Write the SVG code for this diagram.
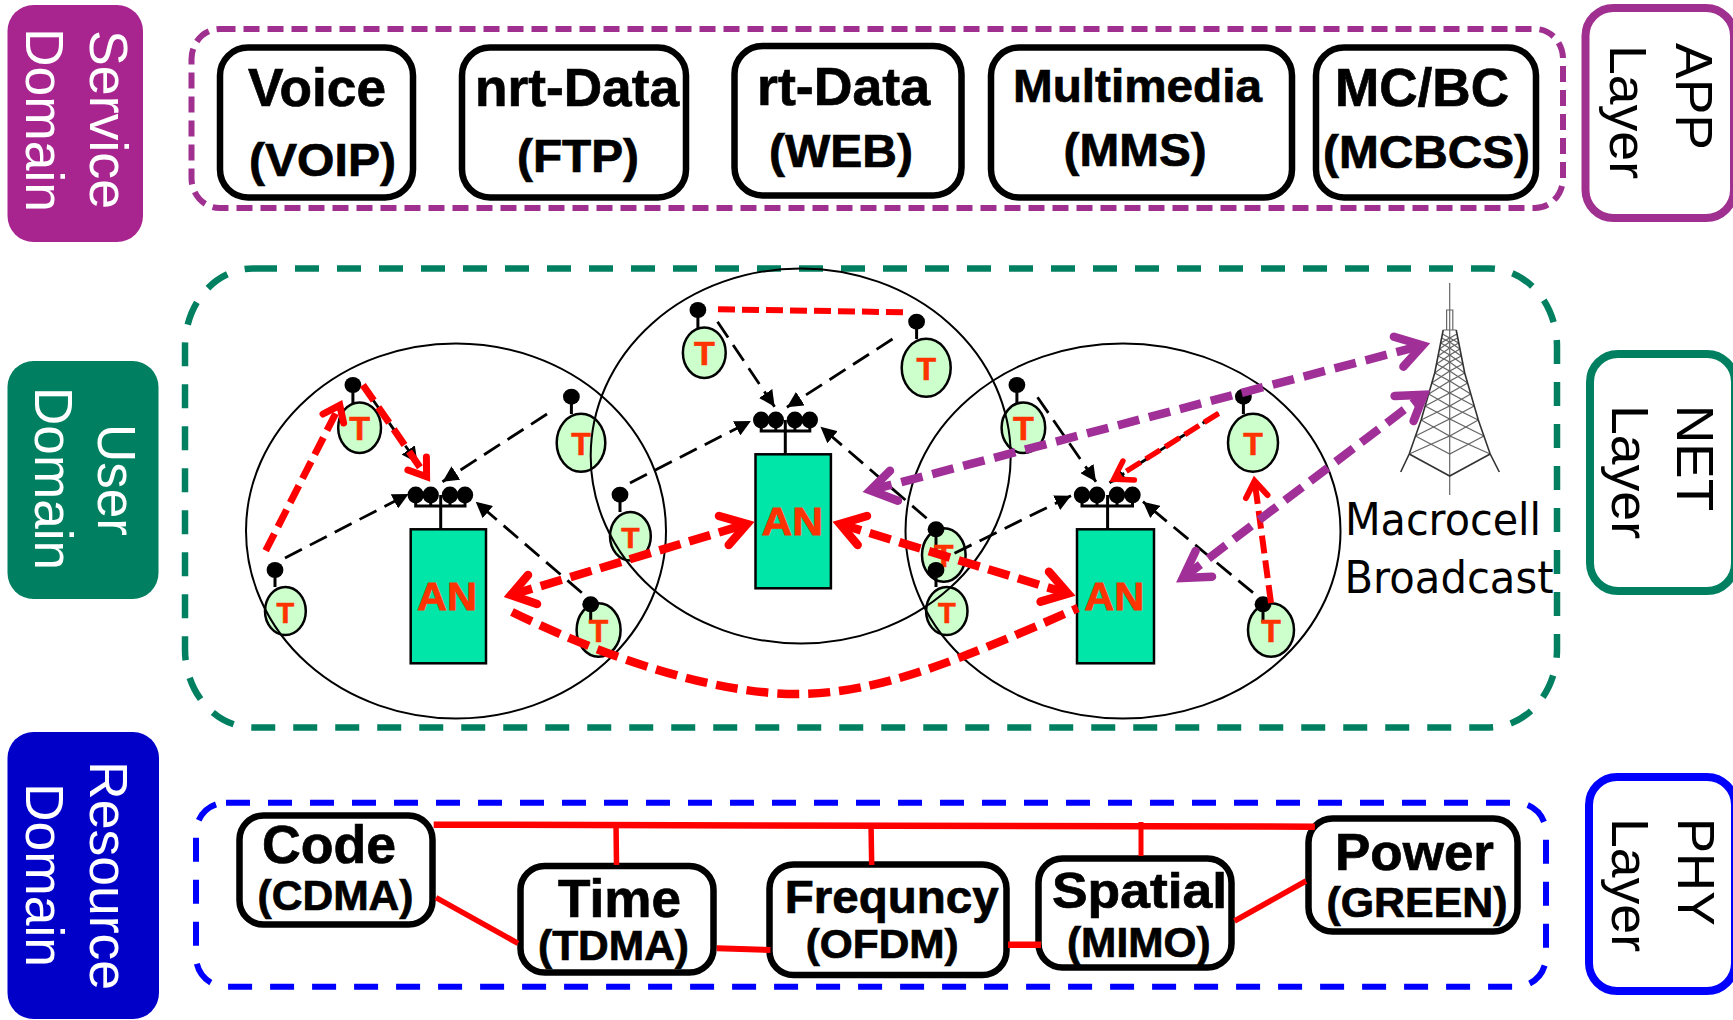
<svg xmlns="http://www.w3.org/2000/svg" width="1733" height="1020" viewBox="0 0 1733 1020">
<style>
text{font-family:"Liberation Sans",Arial,sans-serif}
.dom{fill:#fff;font-size:54px}
.lay{fill:#000;font-size:52px}
.b{font-weight:700;fill:#000;stroke:#000;stroke-width:.7}
.box{fill:#fff;stroke:#000;stroke-width:6.5}
.t{font-weight:700;fill:#FF3300;stroke:#FF3300;stroke-width:.6;text-anchor:middle;font-size:32px}
.an{font-weight:700;fill:#FF3300;stroke:#FF3300;stroke-width:.8;font-size:38px}
.el{fill:#CCFFCC;stroke:#000;stroke-width:2.5}
.st{stroke:#000;stroke-width:3;fill:none}
.anr{fill:#00E6A8;stroke:#000;stroke-width:2.5}
.cell{fill:none;stroke:#000;stroke-width:2}
.blk{stroke:#000;stroke-width:2.8;stroke-dasharray:19 9;fill:none;marker-end:url(#tri)}
.rd{stroke:#FF0000;fill:none}
.arm{stroke-linecap:round;stroke-linejoin:miter;stroke-miterlimit:8;fill:none}
.pp{stroke:#A03098;fill:none}
.lat{stroke:#666;stroke-width:1.2;fill:none}
.leg{stroke:#333;stroke-width:1.6;fill:none}
.res{stroke:#FF0000;fill:none}
.mc{fill:#000;font-family:"DejaVu Sans",sans-serif;font-size:45px}
</style>
<defs>
<marker id="tri" markerUnits="userSpaceOnUse" viewBox="0 0 16 16" refX="16" refY="8" markerWidth="16" markerHeight="16" orient="auto"><path d="M0,0L16,8L0,16z" fill="#000"/></marker>
</defs>
<rect width="1733" height="1020" fill="#fff"/>

<g id="frames" fill="none">
<rect x="191.500" y="29" width="1371.500" height="179" rx="28" ry="30" stroke="#A03090" stroke-width="6" stroke-dasharray="16 8"/>
<rect x="185" y="268.500" width="1372" height="459" rx="68" ry="78" stroke="#008060" stroke-width="6.500" stroke-dasharray="24 18"/>
<rect x="196" y="802.700" width="1350" height="184" rx="30" ry="30" stroke="#0000FF" stroke-width="6" stroke-dasharray="24 18"/>
</g>

<g id="service-domain"><rect x="7.500" y="5" width="135.500" height="237" rx="26" fill="#A82590"/>
<text class="dom" transform="translate(90,30) rotate(90)" textLength="179" lengthAdjust="spacingAndGlyphs">Service</text>
<text class="dom" transform="translate(26,28) rotate(90)" textLength="184" lengthAdjust="spacingAndGlyphs">Domain</text></g>
<g id="user-domain"><rect x="7.500" y="361" width="151" height="238" rx="26" fill="#008060"/>
<text class="dom" transform="translate(98,424) rotate(90)" textLength="112" lengthAdjust="spacingAndGlyphs">User</text>
<text class="dom" transform="translate(35,387) rotate(90)" textLength="183" lengthAdjust="spacingAndGlyphs">Domain</text></g>
<g id="resource-domain"><rect x="7.500" y="732" width="151.500" height="287" rx="26" fill="#0000C8"/>
<text class="dom" transform="translate(90,761) rotate(90)" textLength="229" lengthAdjust="spacingAndGlyphs">Resource</text>
<text class="dom" transform="translate(26,783) rotate(90)" textLength="184" lengthAdjust="spacingAndGlyphs">Domain</text></g>

<g id="app-layer"><rect x="1585.500" y="8" width="148.500" height="210" rx="28" fill="#fff" stroke="#A03090" stroke-width="8"/>
<text class="lay" transform="translate(1676,43) rotate(90)" textLength="107" lengthAdjust="spacingAndGlyphs">APP</text>
<text class="lay" transform="translate(1610,45) rotate(90)" textLength="134" lengthAdjust="spacingAndGlyphs">Layer</text></g>
<g id="net-layer"><rect x="1590" y="354" width="145" height="237" rx="28" fill="#fff" stroke="#008060" stroke-width="8"/>
<text class="lay" transform="translate(1677,405) rotate(90)" textLength="106" lengthAdjust="spacingAndGlyphs">NET</text>
<text class="lay" transform="translate(1612,405) rotate(90)" textLength="134" lengthAdjust="spacingAndGlyphs">Layer</text></g>
<g id="phy-layer"><rect x="1589" y="777" width="146" height="214" rx="28" fill="#fff" stroke="#0000FF" stroke-width="8"/>
<text class="lay" transform="translate(1678,818) rotate(90)" textLength="108" lengthAdjust="spacingAndGlyphs">PHY</text>
<text class="lay" transform="translate(1612,818) rotate(90)" textLength="134" lengthAdjust="spacingAndGlyphs">Layer</text></g>

<g id="voice"><rect class="box" x="220" y="47.500" width="193" height="150" rx="28"/>
<text class="b" x="248" y="106" font-size="53" textLength="138" lengthAdjust="spacingAndGlyphs">Voice</text>
<text class="b" x="249" y="175.700" font-size="47" textLength="147" lengthAdjust="spacingAndGlyphs">(VOIP)</text></g>
<g id="nrt-data"><rect class="box" x="462" y="47.500" width="224" height="150" rx="28"/>
<text class="b" x="475" y="106" font-size="53" textLength="204" lengthAdjust="spacingAndGlyphs">nrt-Data</text>
<text class="b" x="517" y="171.700" font-size="46" textLength="122" lengthAdjust="spacingAndGlyphs">(FTP)</text></g>
<g id="rt-data"><rect class="box" x="734.500" y="46" width="227" height="149.500" rx="28"/>
<text class="b" x="757" y="105" font-size="53" textLength="173" lengthAdjust="spacingAndGlyphs">rt-Data</text>
<text class="b" x="769" y="166.700" font-size="47" textLength="144" lengthAdjust="spacingAndGlyphs">(WEB)</text></g>
<g id="multimedia"><rect class="box" x="991" y="47.500" width="301" height="150" rx="28"/>
<text class="b" x="1013" y="101.700" font-size="46" textLength="249" lengthAdjust="spacingAndGlyphs">Multimedia</text>
<text class="b" x="1063.600" y="165.700" font-size="46" textLength="143" lengthAdjust="spacingAndGlyphs">(MMS)</text></g>
<g id="mc-bc"><rect class="box" x="1316" y="47.500" width="220" height="150" rx="28"/>
<text class="b" x="1335" y="106" font-size="53" textLength="174" lengthAdjust="spacingAndGlyphs">MC/BC</text>
<text class="b" x="1323" y="168" font-size="46" textLength="207" lengthAdjust="spacingAndGlyphs">(MCBCS)</text></g>

<g id="code"><rect class="box" x="239.500" y="815.500" width="193" height="109" rx="24"/>
<text class="b" x="262" y="862.700" font-size="53" textLength="134" lengthAdjust="spacingAndGlyphs">Code</text>
<text class="b" x="257.500" y="910" font-size="42" textLength="156" lengthAdjust="spacingAndGlyphs">(CDMA)</text></g>
<g id="time"><rect class="box" x="520.500" y="866" width="193" height="106.500" rx="24"/>
<text class="b" x="558" y="916.700" font-size="53" textLength="123" lengthAdjust="spacingAndGlyphs">Time</text>
<text class="b" x="538" y="960" font-size="42" textLength="151" lengthAdjust="spacingAndGlyphs">(TDMA)</text></g>
<g id="frequency"><rect class="box" x="769.500" y="864.500" width="237" height="110.500" rx="24"/>
<text class="b" x="784.700" y="912.700" font-size="46" textLength="214" lengthAdjust="spacingAndGlyphs">Frequncy</text>
<text class="b" x="805.700" y="958.300" font-size="40" textLength="153" lengthAdjust="spacingAndGlyphs">(OFDM)</text></g>
<g id="spatial"><rect class="box" x="1038.500" y="858.500" width="193" height="109" rx="24"/>
<text class="b" x="1052" y="908.300" font-size="50" textLength="175" lengthAdjust="spacingAndGlyphs">Spatial</text>
<text class="b" x="1067" y="956.700" font-size="42" textLength="143.500" lengthAdjust="spacingAndGlyphs">(MIMO)</text></g>
<g id="power"><rect class="box" x="1308.500" y="818.500" width="209" height="113" rx="24"/>
<text class="b" x="1335" y="870" font-size="52" textLength="159" lengthAdjust="spacingAndGlyphs">Power</text>
<text class="b" x="1326.500" y="916.700" font-size="42" textLength="181" lengthAdjust="spacingAndGlyphs">(GREEN)</text></g>

<g id="resource-links" class="res">
<path stroke-width="6.500" d="M433.700,824.700L1314.900,826.700"/>
<path stroke-width="5.500" d="M616,823L616.500,865M871,823L871.700,865"/>
<path stroke-width="5" d="M1141,822L1141,856"/>
<path stroke-width="5.500" d="M436,897.700L518,943.300"/>
<path stroke-width="6" d="M716.800,948.300L770.400,950"/>
<path stroke-width="6.500" d="M1008,944.700L1041,944.700"/>
<path stroke-width="5.500" d="M1234.500,921L1306,881"/>
</g>

<g id="t1"><ellipse class="el" cx="359.600" cy="427.700" rx="21.400" ry="25.300"/><path class="st" d="M352.900,385V403"/><ellipse cx="352.900" cy="385" rx="8.400" ry="8"/><text class="t" x="359.600" y="440" style="font-size:34px">T</text></g>
<g id="t2"><ellipse class="el" cx="581" cy="442.700" rx="24.300" ry="29"/><path class="st" d="M571.400,397V414"/><ellipse cx="571.400" cy="396.700" rx="8.400" ry="8"/><text class="t" x="581" y="455">T</text></g>
<g id="t3"><ellipse class="el" cx="630.400" cy="536.300" rx="20.400" ry="24.300"/><path class="st" d="M620,495V512"/><ellipse cx="620" cy="494.700" rx="8.400" ry="8"/><text class="t" x="630.400" y="548" style="font-size:30px">T</text></g>
<g id="t4"><ellipse class="el" cx="285.400" cy="611" rx="20.400" ry="24"/><path class="st" d="M275,570V587"/><ellipse cx="275" cy="570" rx="8.400" ry="8"/><text class="t" x="285.400" y="622.700" style="font-size:29px">T</text></g>
<g id="t5"><ellipse class="el" cx="598.600" cy="630" rx="22" ry="26.700"/><path class="st" d="M590.700,604V622"/><ellipse cx="590.700" cy="604.300" rx="8.400" ry="8"/><text class="t" x="598.600" y="641.700">T</text></g>
<g id="t6"><ellipse class="el" cx="704.300" cy="352.700" rx="21.400" ry="25.300"/><path class="st" d="M697.900,310V328"/><ellipse cx="697.900" cy="310" rx="8.400" ry="8"/><text class="t" x="704.300" y="365" style="font-size:34px">T</text></g>
<g id="t7"><ellipse class="el" cx="926.200" cy="367.700" rx="24.500" ry="29"/><path class="st" d="M916.600,322V339"/><ellipse cx="916.600" cy="321.700" rx="8.400" ry="8"/><text class="t" x="926.200" y="380">T</text></g>
<g id="t8"><ellipse class="el" cx="1023.400" cy="427.700" rx="21.800" ry="25.300"/><path class="st" d="M1016.900,385V403"/><ellipse cx="1016.900" cy="385" rx="8.400" ry="8"/><text class="t" x="1023.400" y="440" style="font-size:34px">T</text></g>
<g id="t9"><ellipse class="el" cx="1253" cy="442.700" rx="25" ry="29"/><path class="st" d="M1243.400,397V414"/><ellipse cx="1243.400" cy="396.700" rx="8.400" ry="8"/><text class="t" x="1253" y="455">T</text></g>
<g id="t10"><ellipse class="el" cx="943.800" cy="555" rx="21.800" ry="26.700"/><path class="st" d="M936,529V552"/><ellipse cx="936" cy="529.300" rx="8.400" ry="8"/><text class="t" x="943.800" y="566.700">T</text></g>
<g id="t11"><ellipse class="el" cx="946.800" cy="611" rx="20.700" ry="24"/><path class="st" d="M936,570V587"/><ellipse cx="936" cy="570" rx="8.400" ry="8"/><text class="t" x="946.800" y="622.700" style="font-size:29px">T</text></g>
<g id="t12"><ellipse class="el" cx="1271" cy="630" rx="23" ry="26.700"/><path class="st" d="M1263,604V622"/><ellipse cx="1263" cy="604.300" rx="8.400" ry="8"/><text class="t" x="1271" y="641.700">T</text></g>

<g id="an1"><path class="st" d="M415.700,495V506H465V495M430.700,495V506M450,495V506"/><ellipse cx="415.700" cy="495" rx="8.200" ry="8.500"/><ellipse cx="430.700" cy="495" rx="8.200" ry="8.500"/><ellipse cx="450" cy="495" rx="8.200" ry="8.500"/><ellipse cx="465" cy="495" rx="8.200" ry="8.500"/><path class="st" d="M440.700,495V529"/><rect class="anr" x="410.700" y="529.300" width="75.300" height="134"/><text class="an" x="417" y="610" textLength="60" lengthAdjust="spacingAndGlyphs">AN</text></g>
<g id="an2"><path class="st" d="M761.200,420V431H809.800V420M775.800,420V431M794.900,420V431"/><ellipse cx="761.200" cy="420" rx="8.200" ry="8.500"/><ellipse cx="775.800" cy="420" rx="8.200" ry="8.500"/><ellipse cx="794.900" cy="420" rx="8.200" ry="8.500"/><ellipse cx="809.800" cy="420" rx="8.200" ry="8.500"/><path class="st" d="M785.300,420V454"/><rect class="anr" x="755.500" y="454.300" width="75.400" height="134"/><text class="an" x="761.500" y="535" textLength="61.500" lengthAdjust="spacingAndGlyphs">AN</text></g>
<g id="an3"><path class="st" d="M1082,495V506H1132.500V495M1097,495V506M1117,495V506"/><ellipse cx="1082" cy="495" rx="8.200" ry="8.500"/><ellipse cx="1097" cy="495" rx="8.200" ry="8.500"/><ellipse cx="1117" cy="495" rx="8.200" ry="8.500"/><ellipse cx="1132.500" cy="495" rx="8.200" ry="8.500"/><path class="st" d="M1107.600,495V529"/><rect class="anr" x="1077" y="529.300" width="77" height="134"/><text class="an" x="1084.300" y="610" textLength="60" lengthAdjust="spacingAndGlyphs">AN</text></g>

<g id="cells">
<ellipse class="cell" cx="456" cy="531" rx="210" ry="187.500"/>
<ellipse class="cell" cx="800.700" cy="456" rx="210" ry="187.500"/>
<ellipse class="cell" cx="1123" cy="531" rx="217.500" ry="187.500"/>
</g>

<g id="macrocell-tower">
<path class="lat" d="M1449.700,283V495"/>
<path class="lat" stroke-width="1.500" d="M1446.600,330V310H1452.800V330M1443.200,330H1456.200"/>
<path class="lat" d="M1415.500,436L1449.700,454L1483.900,436M1421.100,420L1449.700,436L1478.300,420M1425.200,406L1449.700,419L1474.200,406M1428.700,394L1449.700,406L1470.700,394M1431.700,383L1449.700,393L1467.700,383M1434.700,373L1449.700,381L1464.700,373M1436.700,364L1449.700,371L1462.700,364M1438.100,356L1449.700,362L1461.300,356M1439.500,349L1449.700,355L1459.900,349M1440.700,343L1449.700,348L1458.700,343M1441.700,338L1449.700,342L1457.700,338M1442.400,334L1449.700,338L1457,334"/>
<path class="lat" d="M1409.200,454L1449.700,436L1490.200,454M1415.500,436L1449.700,419L1483.900,436M1421.100,420L1449.700,406L1478.300,420M1425.200,406L1449.700,393L1474.200,406M1428.700,394L1449.700,381L1470.700,394M1431.700,383L1449.700,371L1467.700,383M1434.700,373L1449.700,362L1464.700,373M1436.700,364L1449.700,355L1462.700,364M1438.100,356L1449.700,348L1461.300,356M1439.500,349L1449.700,342L1459.900,349M1440.700,343L1449.700,338L1458.700,343"/>
<path class="leg" d="M1409.200,454L1449.700,476L1490.200,454"/>
<path class="leg" d="M1443.200,330L1434.700,373L1421.100,420L1409.200,454L1400.700,472M1456.200,330L1464.700,373L1478.300,420L1490.200,454L1499.300,472"/>
<text class="mc" x="1345" y="535" textLength="196" lengthAdjust="spacingAndGlyphs">Macrocell</text>
<text class="mc" x="1344.500" y="592.700" textLength="209" lengthAdjust="spacingAndGlyphs">Broadcast</text>
</g>

<g id="connectors">
<g id="access-links">
<path class="blk" d="M285,558L408.600,494"/>
<path class="blk" d="M373,400L417.500,463"/>
<path class="blk" d="M547,414L442.500,481.700"/>
<path class="blk" d="M581.800,592.700L475.700,501.700"/>
<path class="blk" d="M717.500,321.700L774.600,406.700"/>
<path class="blk" d="M892.500,339L786.900,407.300"/>
<path class="blk" d="M630,483L750.900,421"/>
<path class="blk" d="M926.600,518.300L820.500,426.700"/>
<path class="blk" d="M1037.500,397.300L1096,481.700"/>
<path class="blk" d="M1218.600,413L1109.500,482.700"/>
<path class="blk" d="M954.500,553.300L1071,495.700"/>
<path class="blk" d="M1253,592.700L1143,501.700"/>
</g>
<g id="red-links">
<path class="rd" stroke-width="7" stroke-dasharray="19 8" d="M265.700,550.700L339.800,405.300"/>
<path class="rd arm" stroke-width="7" d="M323,414L339.800,405.300L343.600,423"/>
<path class="rd" stroke-width="7" stroke-dasharray="19 8" d="M362.900,385L426.600,476.800"/>
<path class="rd arm" stroke-width="7" d="M426.400,457L426.600,476.800L407.900,470"/>
<path class="rd" stroke-width="6" stroke-dasharray="17 7" d="M718,309.300L904,312.300"/>
<path class="rd" stroke-width="5.500" stroke-dasharray="17 6" d="M1218.600,413.300L1113.800,479.100"/>
<path class="rd arm" stroke-width="5.500" d="M1122.900,461L1113.800,479.100L1134.400,480"/>
<path class="rd" stroke-width="6" stroke-dasharray="18 7" d="M1271,603L1254.600,481"/>
<path class="rd arm" stroke-width="6" d="M1246,498L1254.600,481L1267.500,495"/>
<path class="rd" stroke-width="8.500" stroke-dasharray="22 9" d="M511,595L747,524"/>
<path class="rd arm" stroke-width="8.500" d="M528,575L511,595L537,604"/>
<path class="rd arm" stroke-width="8.500" d="M719,516L747,524L728.700,545"/>
<path class="rd" stroke-width="8.500" stroke-dasharray="22 9" d="M840,524L1068,593.600"/>
<path class="rd arm" stroke-width="8.500" d="M867,516L840,524L857.700,545"/>
<path class="rd arm" stroke-width="8.500" d="M1049,571.700L1068,593.600L1040.600,601.700"/>
<path class="rd" stroke-width="8.500" stroke-dasharray="22 9" d="M512,612C610,660 720,695 800,694C880,693 960,660 1078,608"/>
</g>
<g id="broadcast-links">
<path class="pp" stroke-width="8.500" stroke-dasharray="22 10" d="M870.300,490.300L1422.600,345.300"/>
<path class="pp arm" stroke-width="8.500" d="M890,470.700L870.300,490.300L897.900,500.700"/>
<path class="pp arm" stroke-width="8.500" d="M1393.900,336.700L1422.600,345.300L1403.400,366.700"/>
<path class="pp" stroke-width="8.500" stroke-dasharray="22 10" d="M1182.900,577.900L1423.900,394.800"/>
<path class="pp arm" stroke-width="8.500" d="M1195.600,551L1182.900,577.900L1212,576.700"/>
<path class="pp arm" stroke-width="8.500" d="M1394.600,396L1423.900,394.800L1413.600,421"/>
</g>
</g>
</svg>
